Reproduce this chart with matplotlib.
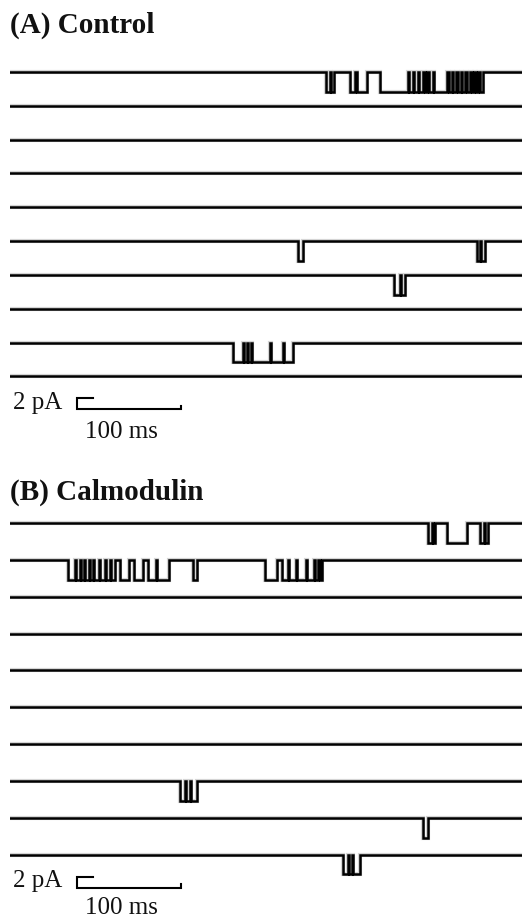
import matplotlib
matplotlib.use("Agg")
import matplotlib.pyplot as plt

# ---------------- data ----------------
sweep_ms = 492          # duration of each sweep (ms)
open_amp_pA = 3.6       # single-channel opening amplitude (pA, downward)
scale_pA = 2
scale_ms = 100

panel_titles = ["(A) Control", "(B) Calmodulin"]
scale_labels = ["2 pA", "100 ms"]

# open intervals (start_ms, end_ms) for each of the 10 sweeps
control_openings = [
    [(303.5, 307.5), (308.5, 311.5),
     (327, 332), (333.5, 343),
     (356, 382), (383.5, 387), (388.5, 392), (393.5, 397), (398.5, 401), (402.5, 406.5),
     (407.5, 420), (421.5, 424.5), (426, 429), (430.5, 433), (434.5, 437.5),
     (439, 442), (443.5, 446), (447.5, 450), (451.5, 455)],
    [],
    [],
    [],
    [],
    [(277, 281.5), (449, 452), (453, 456)],
    [(369, 374.5), (375.5, 380)],
    [],
    [(214.5, 223.5), (224.5, 227.5), (228.5, 232), (233, 249.5), (250.5, 262), (263, 272)],
    [],
]

calmodulin_openings = [
    [(402, 405.5), (406.5, 408.7), (420, 439.5), (452, 455.5), (456.5, 459.6)],
    [(55.8, 62.5), (63.5, 67), (68, 71.5), (72.5, 75.5), (76.5, 80), (81, 85.5),
     (86.5, 91), (92, 96.5), (97.5, 101), (106, 114), (119, 128), (133, 140),
     (141, 153), (176, 180),
     (245, 256.5), (261.5, 267), (268, 275), (276, 284), (285, 292.5),
     (293.5, 296), (297.5, 300)],
    [],
    [],
    [],
    [],
    [],
    [(163.5, 167.8), (168.8, 172.5), (173.5, 179.8)],
    [(397, 401.5)],
    [(320, 324.5), (325.5, 328.3), (329.3, 336.5)],
]

# ---------------- drawing ----------------
W, H = 524, 921
fig = plt.figure(figsize=(W / 100, H / 100), dpi=100)
fig.patch.set_facecolor("white")
serif = ["Liberation Serif", "DejaVu Serif"]

PX = 2 / 11.0  # pA per pixel


def trace_xy(openings):
    xs, ys = [0.0], [0.0]
    for s, e in openings:
        xs += [s, s, e, e]
        ys += [0.0, -open_amp_pA, -open_amp_pA, 0.0]
    xs.append(sweep_ms)
    ys.append(0.0)
    return xs, ys


def panel(openings, title, title_px, first_px, spacing_pA, label_gap_px):
    n = len(openings)
    last_px = first_px + (n - 1) * spacing_pA / PX
    top_px = first_px - 15
    bot_px = last_px + 75
    ax = fig.add_axes([10 / W, 1 - bot_px / H, 512 / W, (bot_px - top_px) / H])
    ax.set_xlim(0, sweep_ms)
    ax.set_ylim(-(bot_px - first_px) * PX, (first_px - top_px) * PX)
    ax.axis("off")

    for i, op in enumerate(openings):
        xs, ys = trace_xy(op)
        off = -i * spacing_pA
        yy = [y + off for y in ys]
        ax.plot(xs, yy, color="#888888", lw=3.0, solid_joinstyle="miter", alpha=0.35)
        ax.plot(xs, yy, color="black", lw=1.8, solid_joinstyle="miter")

    # scale bar
    sb_top = -(n - 1) * spacing_pA - 22 * PX
    x0 = 64.4
    ax.plot([x0 + 15, x0, x0, x0 + scale_ms, x0 + scale_ms],
            [sb_top, sb_top, sb_top - scale_pA, sb_top - scale_pA,
             sb_top - scale_pA + 0.6],
            color="black", lw=1.5, solid_joinstyle="miter")
    ax.text(50, sb_top - 0.8, scale_labels[0], ha="right", va="center",
            fontsize=18, family=serif, color="#111111")
    ax.text(107, sb_top - label_gap_px * PX, scale_labels[1], ha="center",
            va="center", fontsize=18, family=serif, color="#111111")

    fig.text(10 / W, 1 - title_px / H, title, ha="left", va="center",
             fontsize=21, fontweight="bold", family=serif, color="#111111")


panel(control_openings, panel_titles[0], 25, 72, 6.15, 34)
panel(calmodulin_openings, panel_titles[1], 492, 523, 6.7, 31)

fig.savefig("out.png", dpi=100, facecolor="white")
